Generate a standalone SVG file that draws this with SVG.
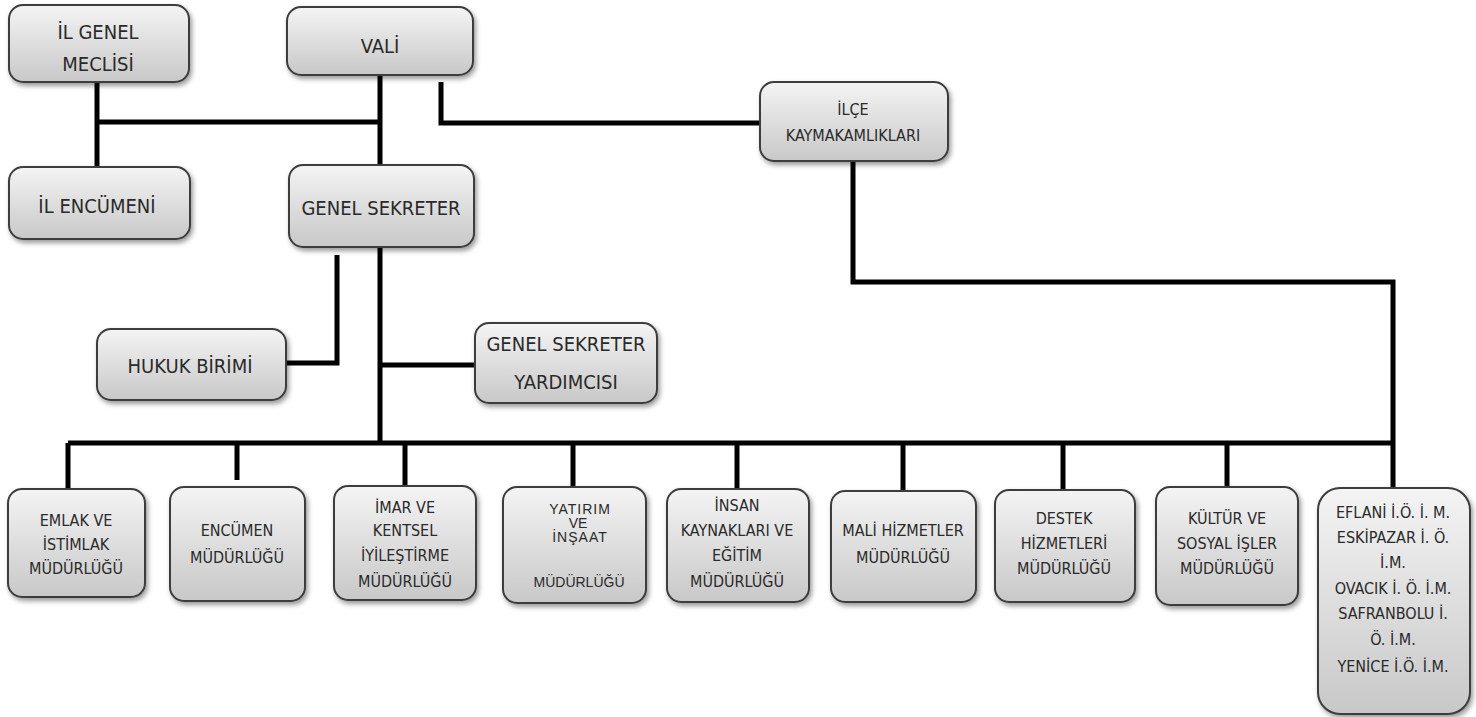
<svg xmlns="http://www.w3.org/2000/svg" width="1476" height="717" viewBox="0 0 1476 717">
<defs>
<linearGradient id="g" x1="0" y1="0" x2="0" y2="1">
<stop offset="0" stop-color="#f4f4f4"/>
<stop offset="1" stop-color="#c8c8c8"/>
</linearGradient>
<filter id="sh" x="-10%" y="-10%" width="125%" height="130%">
<feDropShadow dx="2" dy="3" stdDeviation="2.5" flood-color="#000" flood-opacity="0.4"/>
</filter>
<style>
.b{fill:url(#g);stroke:#3c3c3c;stroke-width:2;filter:url(#sh)}
.t{font-family:"Liberation Sans Narrow","DejaVu Sans Condensed","Liberation Sans",sans-serif;fill:#2a2a2a;text-anchor:middle;dominant-baseline:central}
.L{font-size:20px}
.s{font-size:16px}
.a{font-family:"Liberation Sans",Arial,sans-serif;font-size:14px;fill:#2a2a2a;text-anchor:middle;dominant-baseline:central}
.c{fill:none;stroke:#000;stroke-width:5;stroke-linejoin:miter}
</style>
</defs>
<rect width="1476" height="717" fill="#fff"/>
<g id="connectors">
<path class="c" d="M97,82 V167"/>
<path class="c" d="M97,122 H380"/>
<path class="c" d="M380,75 V165"/>
<path class="c" d="M441,82 V123 H760"/>
<path class="c" d="M853,160 V282 H1393 V488"/>
<path class="c" d="M380,247 V443"/>
<path class="c" d="M337,255 V363 H286"/>
<path class="c" d="M380,365 H475"/>
<path class="c" d="M68,443 H1393"/>
<path class="c" d="M68,443 V489"/>
<path class="c" d="M237,443 V480"/>
<path class="c" d="M405,443 V486"/>
<path class="c" d="M573,443 V487"/>
<path class="c" d="M737,443 V489"/>
<path class="c" d="M903,443 V491"/>
<path class="c" d="M1063,443 V490"/>
<path class="c" d="M1227,443 V487"/>
</g>
<g id="il-genel-meclisi"><rect class="b" x="9" y="5" width="180" height="77" rx="14"/>
<text class="t L" x="98" y="32">İL GENEL</text><text class="t L" x="98" y="64">MECLİSİ</text></g>
<g id="vali"><rect class="b" x="287" y="7" width="186" height="68" rx="14"/>
<text class="t L" x="380" y="46">VALİ</text></g>
<g id="il-encumeni"><rect class="b" x="9" y="167" width="181" height="72" rx="14"/>
<text class="t L" x="97" y="206">İL ENCÜMENİ</text></g>
<g id="genel-sekreter"><rect class="b" x="289" y="165" width="185" height="82" rx="14"/>
<text class="t L" x="381" y="208">GENEL SEKRETER</text></g>
<g id="ilce-kaymakamliklari"><rect class="b" x="760" y="82" width="188" height="79" rx="14"/>
<text class="t s" x="853" y="109">İLÇE</text><text class="t s" x="853" y="135">KAYMAKAMLIKLARI</text></g>
<g id="hukuk-birimi"><rect class="b" x="97" y="329" width="189" height="71" rx="14"/>
<text class="t L" x="190" y="366">HUKUK BİRİMİ</text></g>
<g id="genel-sekreter-yardimcisi"><rect class="b" x="475" y="323" width="182" height="80" rx="14"/>
<text class="t L" x="566" y="344">GENEL SEKRETER</text><text class="t L" x="566" y="382">YARDIMCISI</text></g>
<g id="emlak"><rect class="b" x="8" y="489" width="137" height="108" rx="14"/>
<text class="t s" x="76" y="520">EMLAK VE</text><text class="t s" x="76" y="544">İSTİMLAK</text><text class="t s" x="76" y="568">MÜDÜRLÜĞÜ</text></g>
<g id="encumen"><rect class="b" x="170" y="487" width="135" height="114" rx="14"/>
<text class="t s" x="237" y="530">ENCÜMEN</text><text class="t s" x="237" y="557">MÜDÜRLÜĞÜ</text></g>
<g id="imar"><rect class="b" x="334" y="486" width="142" height="114" rx="14"/>
<text class="t s" x="405" y="507">İMAR VE</text><text class="t s" x="405" y="530">KENTSEL</text><text class="t s" x="405" y="555">İYİLEŞTİRME</text><text class="t s" x="405" y="581">MÜDÜRLÜĞÜ</text></g>
<g id="yatirim"><rect class="b" x="503" y="487" width="143" height="116" rx="14"/>
<text class="a" x="580" y="509" letter-spacing="1">YATIRIM</text><text class="a" x="578" y="523">VE</text><text class="a" x="580" y="537" letter-spacing="1">İNŞAAT</text><text class="a" x="579" y="582">MÜDÜRLÜĞÜ</text></g>
<g id="insan"><rect class="b" x="667" y="489" width="142" height="113" rx="14"/>
<text class="t s" x="737" y="505">İNSAN</text><text class="t s" x="737" y="530">KAYNAKLARI VE</text><text class="t s" x="737" y="555">EĞİTİM</text><text class="t s" x="737" y="581">MÜDÜRLÜĞÜ</text></g>
<g id="mali"><rect class="b" x="831" y="491" width="145" height="111" rx="14"/>
<text class="t s" x="903" y="530">MALİ HİZMETLER</text><text class="t s" x="903" y="557">MÜDÜRLÜĞÜ</text></g>
<g id="destek"><rect class="b" x="995" y="490" width="140" height="112" rx="14"/>
<text class="t s" x="1064" y="518">DESTEK</text><text class="t s" x="1064" y="543">HİZMETLERİ</text><text class="t s" x="1064" y="568">MÜDÜRLÜĞÜ</text></g>
<g id="kultur"><rect class="b" x="1156" y="487" width="142" height="118" rx="14"/>
<text class="t s" x="1227" y="518">KÜLTÜR VE</text><text class="t s" x="1227" y="543">SOSYAL İŞLER</text><text class="t s" x="1227" y="568">MÜDÜRLÜĞÜ</text></g>
<g id="ilce-ozel-idare"><rect class="b" x="1318" y="488" width="152" height="226" rx="22"/>
<text class="t s" x="1393" y="512">EFLANİ İ.Ö. İ. M.</text><text class="t s" x="1393" y="537">ESKİPAZAR İ. Ö.</text><text class="t s" x="1393" y="562">İ.M.</text><text class="t s" x="1393" y="588">OVACIK İ. Ö. İ.M.</text><text class="t s" x="1393" y="613">SAFRANBOLU İ.</text><text class="t s" x="1393" y="639">Ö. İ.M.</text><text class="t s" x="1393" y="666">YENİCE İ.Ö. İ.M.</text></g>
</svg>
